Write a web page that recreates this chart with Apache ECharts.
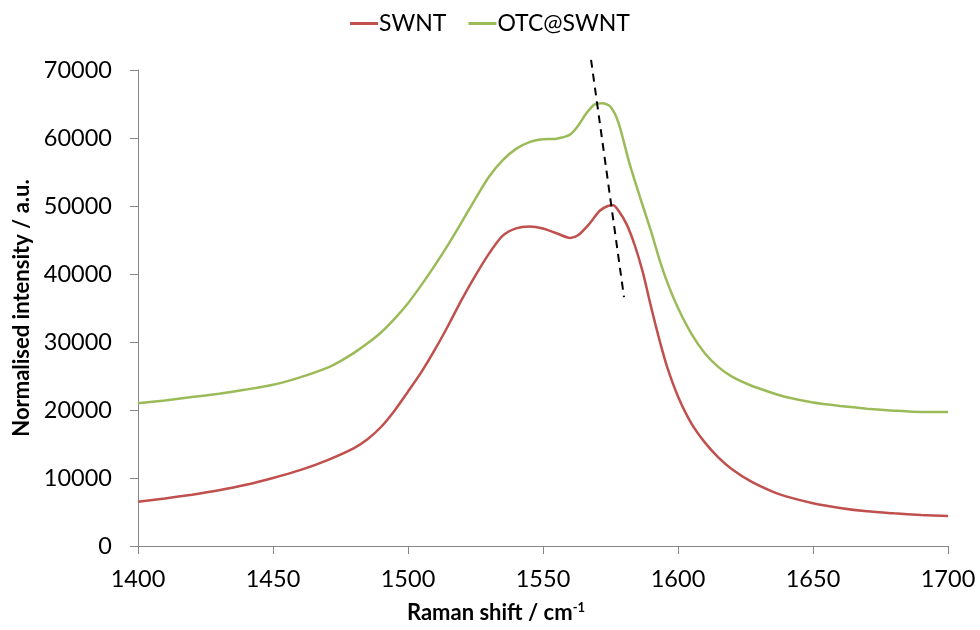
<!DOCTYPE html>
<html>
<head>
<meta charset="utf-8">
<script src="https://cdn.jsdelivr.net/npm/echarts@6/dist/echarts.min.js"></script>
<style>html,body{margin:0;padding:0;background:#fff}#c{width:980px;height:630px}</style>
</head>
<body>
<div id="c"></div>
<script>
const seriesNames = ["SWNT", "OTC@SWNT"];
const swntX = [1400,1410,1420,1430,1440,1450,1460,1470,1480,1485,1490,1495,1500,1505,1510,1515,1520,1525,1530,1535,1540,1545,1550,1555,1560,1563,1567,1571,1574,1576,1578,1581,1584,1587,1590,1593,1596,1600,1605,1610,1615,1620,1627,1635,1640,1650,1660,1670,1680,1690,1700];
const swntY = [6500,7000,7550,8200,9000,10000,11150,12600,14400,15700,17500,19900,22700,25600,28900,32500,36300,39800,43000,45600,46700,47000,46700,46000,45300,45700,47300,49300,50000,50100,49300,47300,44200,40200,35200,30500,26300,22000,18000,15200,13000,11300,9500,8000,7300,6300,5600,5100,4800,4550,4400];
const otcX = [1400,1410,1420,1430,1440,1450,1460,1470,1475,1480,1485,1490,1495,1500,1505,1510,1515,1520,1525,1530,1535,1540,1545,1550,1555,1560,1563,1566,1569,1572,1575,1578,1582,1586,1590,1593,1596,1600,1605,1610,1615,1620,1627,1635,1640,1650,1660,1670,1680,1690,1700];
const otcY = [21000,21400,21900,22400,23000,23700,24800,26200,27200,28400,29800,31400,33400,35700,38400,41300,44400,47700,51100,54300,56700,58400,59400,59800,59900,60500,61800,63600,64900,65100,64600,62200,56300,51200,46300,42300,38800,35000,31200,28300,26300,24900,23600,22500,21900,21100,20600,20200,19900,19700,19700];
const trendX = [1567.8, 1580];
const trendY = [71500, 36600];
const xTicks = [1400,1450,1500,1550,1600,1650,1700];
const yTicks = [0,10000,20000,30000,40000,50000,60000,70000];

const zip = (xs, ys) => xs.map((x, i) => [x, ys[i]]);
const font = "Lato, 'Open Sans', sans-serif";
const chart = echarts.init(document.getElementById('c'), null, {renderer: 'canvas'});
chart.setOption({
  animation: false,
  backgroundColor: '#fff',
  legend: {
    data: seriesNames,
    top: 7,
    left: 'center',
    itemWidth: 28,
    itemHeight: 3,
    itemGap: 22,
    icon: 'rect',
    textStyle: {fontFamily: font, fontSize: 23, color: '#000', padding: [0,0,0,-4]}
  },
  grid: {left: 138, right: 32, top: 70, bottom: 84, containLabel: false},
  xAxis: {
    type: 'value',
    min: xTicks[0], max: xTicks[xTicks.length-1], interval: 50,
    name: 'Raman shift / cm{sup|-1}',
    nameLocation: 'middle', nameGap: 55,
    nameTextStyle: {fontFamily: font, fontSize: 22, fontWeight: 'bold', color: '#000', padding: [0, 94, 0, 0],
      rich: {sup: {fontFamily: font, fontSize: 13, fontWeight: 'bold', color: '#000', verticalAlign: 'top', padding: [0,0,10,0]}}},
    axisLine: {show: true, lineStyle: {color: '#868686', width: 1}},
    axisTick: {show: true, length: 8, lineStyle: {color: '#868686'}},
    axisLabel: {fontFamily: font, fontSize: 23.5, color: '#000', margin: 21, formatter: v => String(v)},
    splitLine: {show: false}
  },
  yAxis: {
    type: 'value',
    min: yTicks[0], max: yTicks[yTicks.length-1], interval: 10000,
    name: 'Normalised intensity / a.u.',
    nameLocation: 'middle', nameGap: 104,
    nameTextStyle: {fontFamily: font, fontSize: 22, fontWeight: 'bold', color: '#000'},
    axisLine: {show: true, lineStyle: {color: '#868686', width: 1}},
    axisTick: {show: true, length: 8, lineStyle: {color: '#868686'}},
    axisLabel: {fontFamily: font, fontSize: 23.5, color: '#000', margin: 26, formatter: v => String(v)},
    splitLine: {show: false}
  },
  series: [
    {name: seriesNames[0], type: 'line', data: zip(swntX, swntY), smooth: 0.25, showSymbol: false,
     lineStyle: {color: '#C0504D', width: 2.5}, itemStyle: {color: '#C0504D'}},
    {name: seriesNames[1], type: 'line', data: zip(otcX, otcY), smooth: 0.25, showSymbol: false,
     lineStyle: {color: '#9BBB59', width: 2.5}, itemStyle: {color: '#9BBB59'}},
    {name: 'trend', type: 'line', data: zip(trendX, trendY), showSymbol: false, clip: false,
     lineStyle: {color: '#000', width: 2, type: [8, 6]}, z: 5}
  ]
});
</script>
</body>
</html>
